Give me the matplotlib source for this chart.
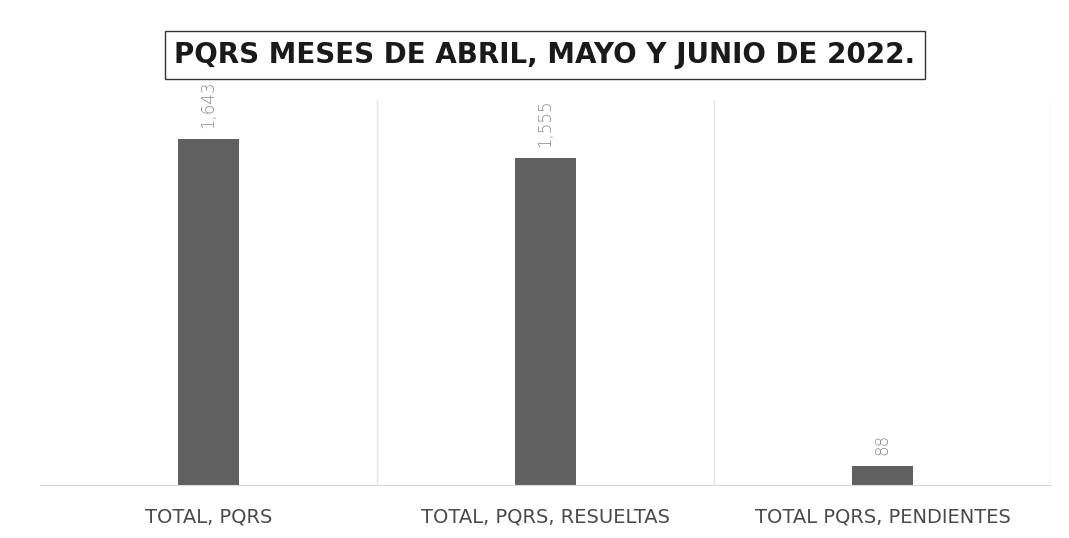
import matplotlib.pyplot as plt
import numpy as np

categorias = ['TOTAL, PQRS', 'TOTAL, PQRS, RESUELTAS', 'TOTAL PQRS, PENDIENTES']
valores = [1643, 1555, 88]
etiquetas = ['1,643', '1,555', '88']

fig = plt.figure(figsize=(10.69, 5.38), dpi=100)
ax = fig.add_axes([40 / 1069, 1 - 485 / 538, 1011 / 1069, 385 / 538])

x = np.arange(len(categorias))
ax.bar(x, valores, width=0.18, color='#606060', zorder=2)

# etiquetas de datos rotadas
for xi, v, t in zip(x, valores, etiquetas):
    ax.annotate(t, (xi, v), xytext=(0, 8), textcoords='offset points',
                rotation=90, ha='center', va='bottom', fontsize=12,
                color='#8a8a8a', family='DejaVu Sans', fontweight='light')

ax.set_xlim(-0.5, 2.5)
ax.set_ylim(0, 1830)
ax.set_xticks(x)
ax.set_xticklabels(categorias, fontsize=14, color='#4a4a4a', family='DejaVu Sans')
ax.tick_params(axis='x', length=0, pad=16)
ax.set_yticks([])

# separadores verticales entre categorias
for b in [0.5, 1.5, 2.5]:
    ax.axvline(b, color='#e6e6e6', lw=1, zorder=1)

for s in ['top', 'left', 'right']:
    ax.spines[s].set_visible(False)
ax.spines['bottom'].set_color('#d9d9d9')

fig.text(545 / 1069, 1 - 55 / 538, 'PQRS MESES DE ABRIL, MAYO Y JUNIO DE 2022.',
         ha='center', va='center', fontsize=20, fontweight='bold',
         color='#1a1a1a', family='DejaVu Sans',
         bbox=dict(boxstyle='square,pad=0.35', fc='white', ec='#333333', lw=1))

plt.savefig('out.png', dpi=100)
